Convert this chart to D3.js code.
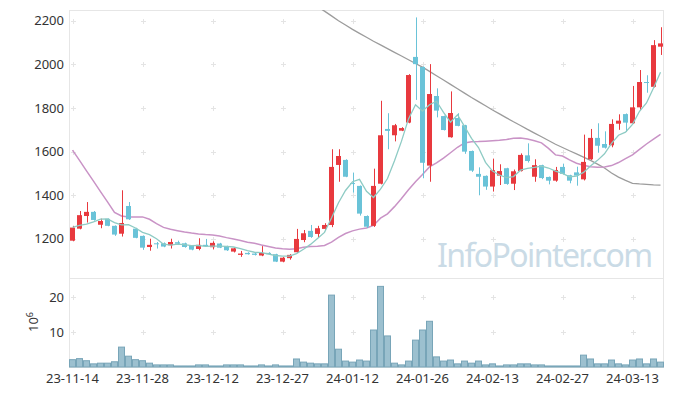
<!DOCTYPE html>
<html>
<head>
<meta charset="utf-8">
<script src="https://cdn.jsdelivr.net/npm/d3@7"></script>
<style>
body { margin: 0; background: #fff; }
text { font-family: "Noto Sans", sans-serif; }
</style>
</head>
<body>
<div id="chart"></div>
<script>
// Trading days (YY-MM-DD)
var dates = ["23-11-14","23-11-15","23-11-16","23-11-17","23-11-20","23-11-21","23-11-22","23-11-23","23-11-24","23-11-27",
  "23-11-28","23-11-29","23-11-30","23-12-01","23-12-04","23-12-05","23-12-06","23-12-07","23-12-08","23-12-11",
  "23-12-12","23-12-13","23-12-14","23-12-15","23-12-18","23-12-19","23-12-20","23-12-21","23-12-22","23-12-26",
  "23-12-27","23-12-28","24-01-02","24-01-03","24-01-04","24-01-05","24-01-08","24-01-09","24-01-10","24-01-11",
  "24-01-12","24-01-15","24-01-16","24-01-17","24-01-18","24-01-19","24-01-22","24-01-23","24-01-24","24-01-25",
  "24-01-26","24-01-29","24-01-30","24-01-31","24-02-01","24-02-02","24-02-05","24-02-06","24-02-07","24-02-08",
  "24-02-13","24-02-14","24-02-15","24-02-16","24-02-19","24-02-20","24-02-21","24-02-22","24-02-23","24-02-26",
  "24-02-27","24-02-28","24-02-29","24-03-04","24-03-05","24-03-06","24-03-07","24-03-08","24-03-11","24-03-12",
  "24-03-13","24-03-14","24-03-15","24-03-18","24-03-19"];

var open = [1192,1247,1305,1324,1265,1292,1260,1224,1351,1247, 1214,1163,1180,1180,1171,1185,1180,1169,1154,1173,
  1162,1179,1167,1142,1127,1136,1133,1124,1136,1130, 1096,1112,1139,1195,1237,1223,1246,1264,1539,1562,
  1456,1443,1305,1260,1453,1704,1675,1696,1733,2034, 1988,1536,1855,1763,1666,1754,1721,1603,1498,1489,
  1440,1490,1524,1453,1511,1583,1485,1538,1484,1467, 1530,1492,1505,1473,1565,1663,1635,1629,1728,1772,
  1730,1803,1919,1897,2081];
var high = [1260,1328,1369,1328,1293,1294,1262,1423,1369,1251, 1216,1201,1186,1184,1201,1192,1183,1171,1203,1200,
  1189,1182,1169,1160,1145,1139,1136,1167,1139,1132, 1117,1130,1246,1241,1264,1260,1272,1611,1611,1565,
  1504,1445,1308,1522,1833,1776,1727,1712,1955,2215, 1990,2001,1890,1765,1876,1776,1723,1605,1528,1491,
  1568,1542,1526,1518,1592,1638,1565,1540,1486,1530, 1545,1494,1531,1678,1704,1730,1693,1748,1771,1775,
  1901,1974,1950,2111,2170];
var low = [1190,1244,1275,1284,1249,1258,1214,1211,1287,1203, 1150,1146,1156,1162,1156,1172,1160,1148,1148,1165,
  1152,1158,1145,1138,1118,1128,1124,1121,1128,1094, 1093,1105,1135,1185,1205,1205,1240,1254,1462,1483,
  1412,1307,1250,1255,1450,1611,1647,1694,1730,1837, 1478,1462,1757,1697,1664,1716,1590,1507,1400,1425,
  1417,1447,1448,1424,1509,1550,1462,1474,1450,1462, 1495,1455,1444,1468,1562,1595,1614,1620,1700,1690,
  1727,1790,1870,1894,2043];
var close = [1252,1309,1324,1287,1282,1260,1220,1273,1290,1205, 1160,1173,1177,1165,1186,1178,1163,1151,1173,1167,
  1182,1160,1148,1157,1133,1130,1127,1136,1130,1096, 1114,1127,1200,1226,1209,1249,1264,1530,1580,1485,
  1452,1316,1256,1443,1675,1695,1721,1708,1951,2001, 1549,1864,1788,1699,1777,1718,1600,1513,1485,1440,
  1515,1511,1452,1510,1585,1557,1538,1479,1467,1516, 1498,1467,1490,1553,1663,1627,1618,1727,1742,1733,
  1803,1919,1916,2088,2096];

// Volume, millions
var volume = [2.1,2.4,1.8,0.9,1.1,1.1,1.5,5.7,3.1,2.1, 1.8,1.1,0.6,0.6,0.6,0.3,0.3,0.3,0.6,0.6,
  0.3,0.3,0.6,0.6,0.6,0.3,0.3,0.6,0.3,0.6, 0.3,0.3,2.3,1.4,1.1,0.9,0.9,20.6,5.1,1.7,
  1.4,2.0,1.7,10.6,23.1,8.9,1.1,0.6,1.7,7.7, 10.6,13.1,2.9,1.7,2.0,0.9,1.7,1.1,1.7,0.6,
  0.9,0.3,0.6,0.6,0.9,0.9,0.6,0.6,0.3,0.3, 0.3,0.3,0.3,3.4,2.3,0.9,0.9,2.0,0.9,0.6,
  2.0,2.3,0.9,2.3,1.4];

// Moving averages
var ma5 = [1253,1262,1268,1278,1291,1292,1275,1264,1265,1250, 1230,1220,1201,1176,1172,1176,1174,1169,1170,1166,
  1167,1167,1166,1163,1156,1146,1139,1137,1131,1124, 1121,1121,1133,1153,1175,1202,1230,1296,1366,1422,
  1462,1473,1418,1390,1428,1477,1558,1648,1750,1815, 1786,1815,1831,1780,1735,1769,1716,1661,1619,1551,
  1511,1493,1481,1486,1515,1523,1528,1534,1525,1511, 1500,1485,1488,1505,1534,1560,1590,1638,1675,1689,
  1725,1785,1823,1892,1964];
var ma20 = [1607,1560,1512,1465,1417,1370,1322,1305,1300,1300, 1301,1290,1270,1253,1244,1238,1232,1227,1223,1220,
  1218,1213,1206,1200,1193,1185,1180,1172,1165,1158, 1155,1153,1155,1162,1165,1167,1170,1185,1207,1225,
  1237,1245,1250,1262,1295,1315,1348,1385,1425,1462, 1495,1530,1548,1570,1595,1620,1640,1645,1646,1648,
  1650,1652,1656,1661,1662,1658,1650,1640,1615,1585, 1580,1562,1547,1538,1531,1528,1530,1536,1550,1568,
  1585,1610,1635,1657,1679];
var ma60 = [null,null,null,null,null,null,null,null,null,null, null,null,null,null,null,null,null,null,null,null,
  null,null,null,null,null,null,null,null,null,null, null,null,null,2305,2285,2264,2244,2222,2200,2180,
  2160,2142,2124,2106,2089,2072,2055,2038,2021,2004, 1987,1968,1948,1928,1908,1888,1868,1848,1829,1810,
  1791,1773,1755,1737,1720,1702,1685,1668,1651,1634, 1619,1604,1590,1575,1560,1543,1525,1502,1483,1468,
  1455,1452,1450,1448,1447];

var priceTicks = [1200, 1400, 1600, 1800, 2000, 2200];
var volumeTicks = [10, 20];
var dateTickEvery = 10;

// Layout
var width = 673, height = 396;
var plot = {left: 69, right: 664, top: 10, mid: 278, bottom: 367};

var upColor = '#e8393e', downColor = '#6ac3d8';

var idx = d3.range(dates.length);
var x = d3.scaleBand().domain(idx).range([plot.left, plot.right]).paddingInner(0.3).paddingOuter(0.15);
var xVol = d3.scaleBand().domain(idx).range([plot.left, plot.right]).padding(0);
var y = d3.scaleLinear().domain([1021, 2249]).range([plot.mid, plot.top]);
var yVol = d3.scaleLinear().domain([0, 25.5]).range([plot.bottom, plot.mid]);

function cx(i) { return x(i) + x.bandwidth() / 2; }

var svg = d3.select('#chart').append('svg')
  .attr('width', width)
  .attr('height', height);

svg.append('defs').append('clipPath').attr('id', 'clip-main')
  .append('rect')
  .attr('x', plot.left).attr('y', plot.top)
  .attr('width', plot.right - plot.left).attr('height', plot.mid - plot.top);

// Panel borders
var frame = svg.append('g').attr('stroke', '#e6e6e6').attr('stroke-width', 1).attr('fill', 'none');
frame.append('rect')
  .attr('x', plot.left + 0.5).attr('y', plot.top + 0.5)
  .attr('width', plot.right - plot.left - 1).attr('height', plot.bottom - plot.top);
frame.append('line')
  .attr('x1', plot.left).attr('x2', plot.right)
  .attr('y1', plot.mid + 0.5).attr('y2', plot.mid + 0.5);

// Grid crosses
var tickIdx = idx.filter(function(i) { return i % dateTickEvery === 0; });
var crossPts = [];
tickIdx.forEach(function(i) {
  priceTicks.forEach(function(p) { crossPts.push([cx(i), y(p)]); });
  volumeTicks.forEach(function(v) { crossPts.push([cx(i), yVol(v)]); });
});
svg.append('g').attr('stroke', '#e4e4e4').attr('stroke-width', 1)
  .selectAll('path').data(crossPts).enter().append('path')
  .attr('d', function(d) {
    var px = Math.round(d[0]) + 0.5, py = Math.round(d[1]) + 0.5;
    return 'M' + (px - 2.5) + ',' + py + 'H' + (px + 2.5) + 'M' + px + ',' + (py - 2.5) + 'V' + (py + 2.5);
  });

// Watermark
svg.append('text')
  .attr('x', 437).attr('y', 267)
  .attr('font-family', '"Open Sans", sans-serif')
  .attr('font-size', 32)
  .attr('letter-spacing', -1.6)
  .attr('fill', '#cadbe6')
  .text('InfoPointer.com');

// Y labels
svg.append('g').selectAll('text').data(priceTicks).enter().append('text')
  .attr('x', 64).attr('y', function(d) { return y(d); })
  .attr('dy', '0.35em')
  .attr('text-anchor', 'end')
  .attr('font-size', 13)
  .attr('fill', '#333')
  .text(function(d) { return d; });

svg.append('g').selectAll('text').data(volumeTicks).enter().append('text')
  .attr('x', 64).attr('y', function(d) { return yVol(d); })
  .attr('dy', '0.35em')
  .attr('text-anchor', 'end')
  .attr('font-size', 13)
  .attr('fill', '#333')
  .text(function(d) { return d; });

var unit = svg.append('text')
  .attr('transform', 'translate(38,332) rotate(-90)')
  .attr('font-size', 13)
  .attr('fill', '#333');
unit.append('tspan').text('10');
unit.append('tspan').attr('dy', -5).attr('font-size', 9).text('6');

// X labels
svg.append('g').selectAll('text').data(tickIdx).enter().append('text')
  .attr('x', function(i) { return cx(i); })
  .attr('y', 383)
  .attr('text-anchor', 'middle')
  .attr('font-size', 13)
  .attr('fill', '#333')
  .text(function(i) { return dates[i]; });

// Volume bars
svg.append('g').selectAll('rect').data(idx).enter().append('rect')
  .attr('x', function(i) { return xVol(i) + 0.5; })
  .attr('y', function(i) { return yVol(volume[i]); })
  .attr('width', xVol.bandwidth() - 1)
  .attr('height', function(i) { return yVol(0) - yVol(volume[i]); })
  .attr('fill', '#9cc0cf')
  .attr('stroke', '#78a5b8')
  .attr('stroke-width', 1);

var main = svg.append('g').attr('clip-path', 'url(#clip-main)');

// Moving average lines
function maLine(arr) {
  return d3.line()
    .defined(function(i) { return arr[i] != null; })
    .x(function(i) { return cx(i); })
    .y(function(i) { return y(arr[i]); });
}
main.append('path').datum(idx).attr('fill', 'none')
  .attr('stroke', '#9c9c9c').attr('stroke-width', 1.3).attr('d', maLine(ma60));
main.append('path').datum(idx).attr('fill', 'none')
  .attr('stroke', '#c993c6').attr('stroke-width', 1.5).attr('d', maLine(ma20));

// Candles
var candle = main.append('g').selectAll('g').data(idx).enter().append('g')
  .attr('fill', function(i) { return close[i] >= open[i] ? upColor : downColor; })
  .attr('stroke', function(i) { return close[i] >= open[i] ? upColor : downColor; });

candle.append('line')
  .attr('x1', function(i) { return Math.round(cx(i)) + 0.5; })
  .attr('x2', function(i) { return Math.round(cx(i)) + 0.5; })
  .attr('y1', function(i) { return y(high[i]); })
  .attr('y2', function(i) { return y(low[i]); })
  .attr('stroke-width', 1);

candle.append('rect')
  .attr('stroke', 'none')
  .attr('x', function(i) { return cx(i) - 2.5; })
  .attr('width', 5)
  .attr('y', function(i) { return y(Math.max(open[i], close[i])); })
  .attr('height', function(i) { return Math.max(1, Math.abs(y(open[i]) - y(close[i]))); });

main.append('path').datum(idx).attr('fill', 'none')
  .attr('stroke', '#8ecbc4').attr('stroke-width', 1.3).attr('d', maLine(ma5));
</script>
</body>
</html>
